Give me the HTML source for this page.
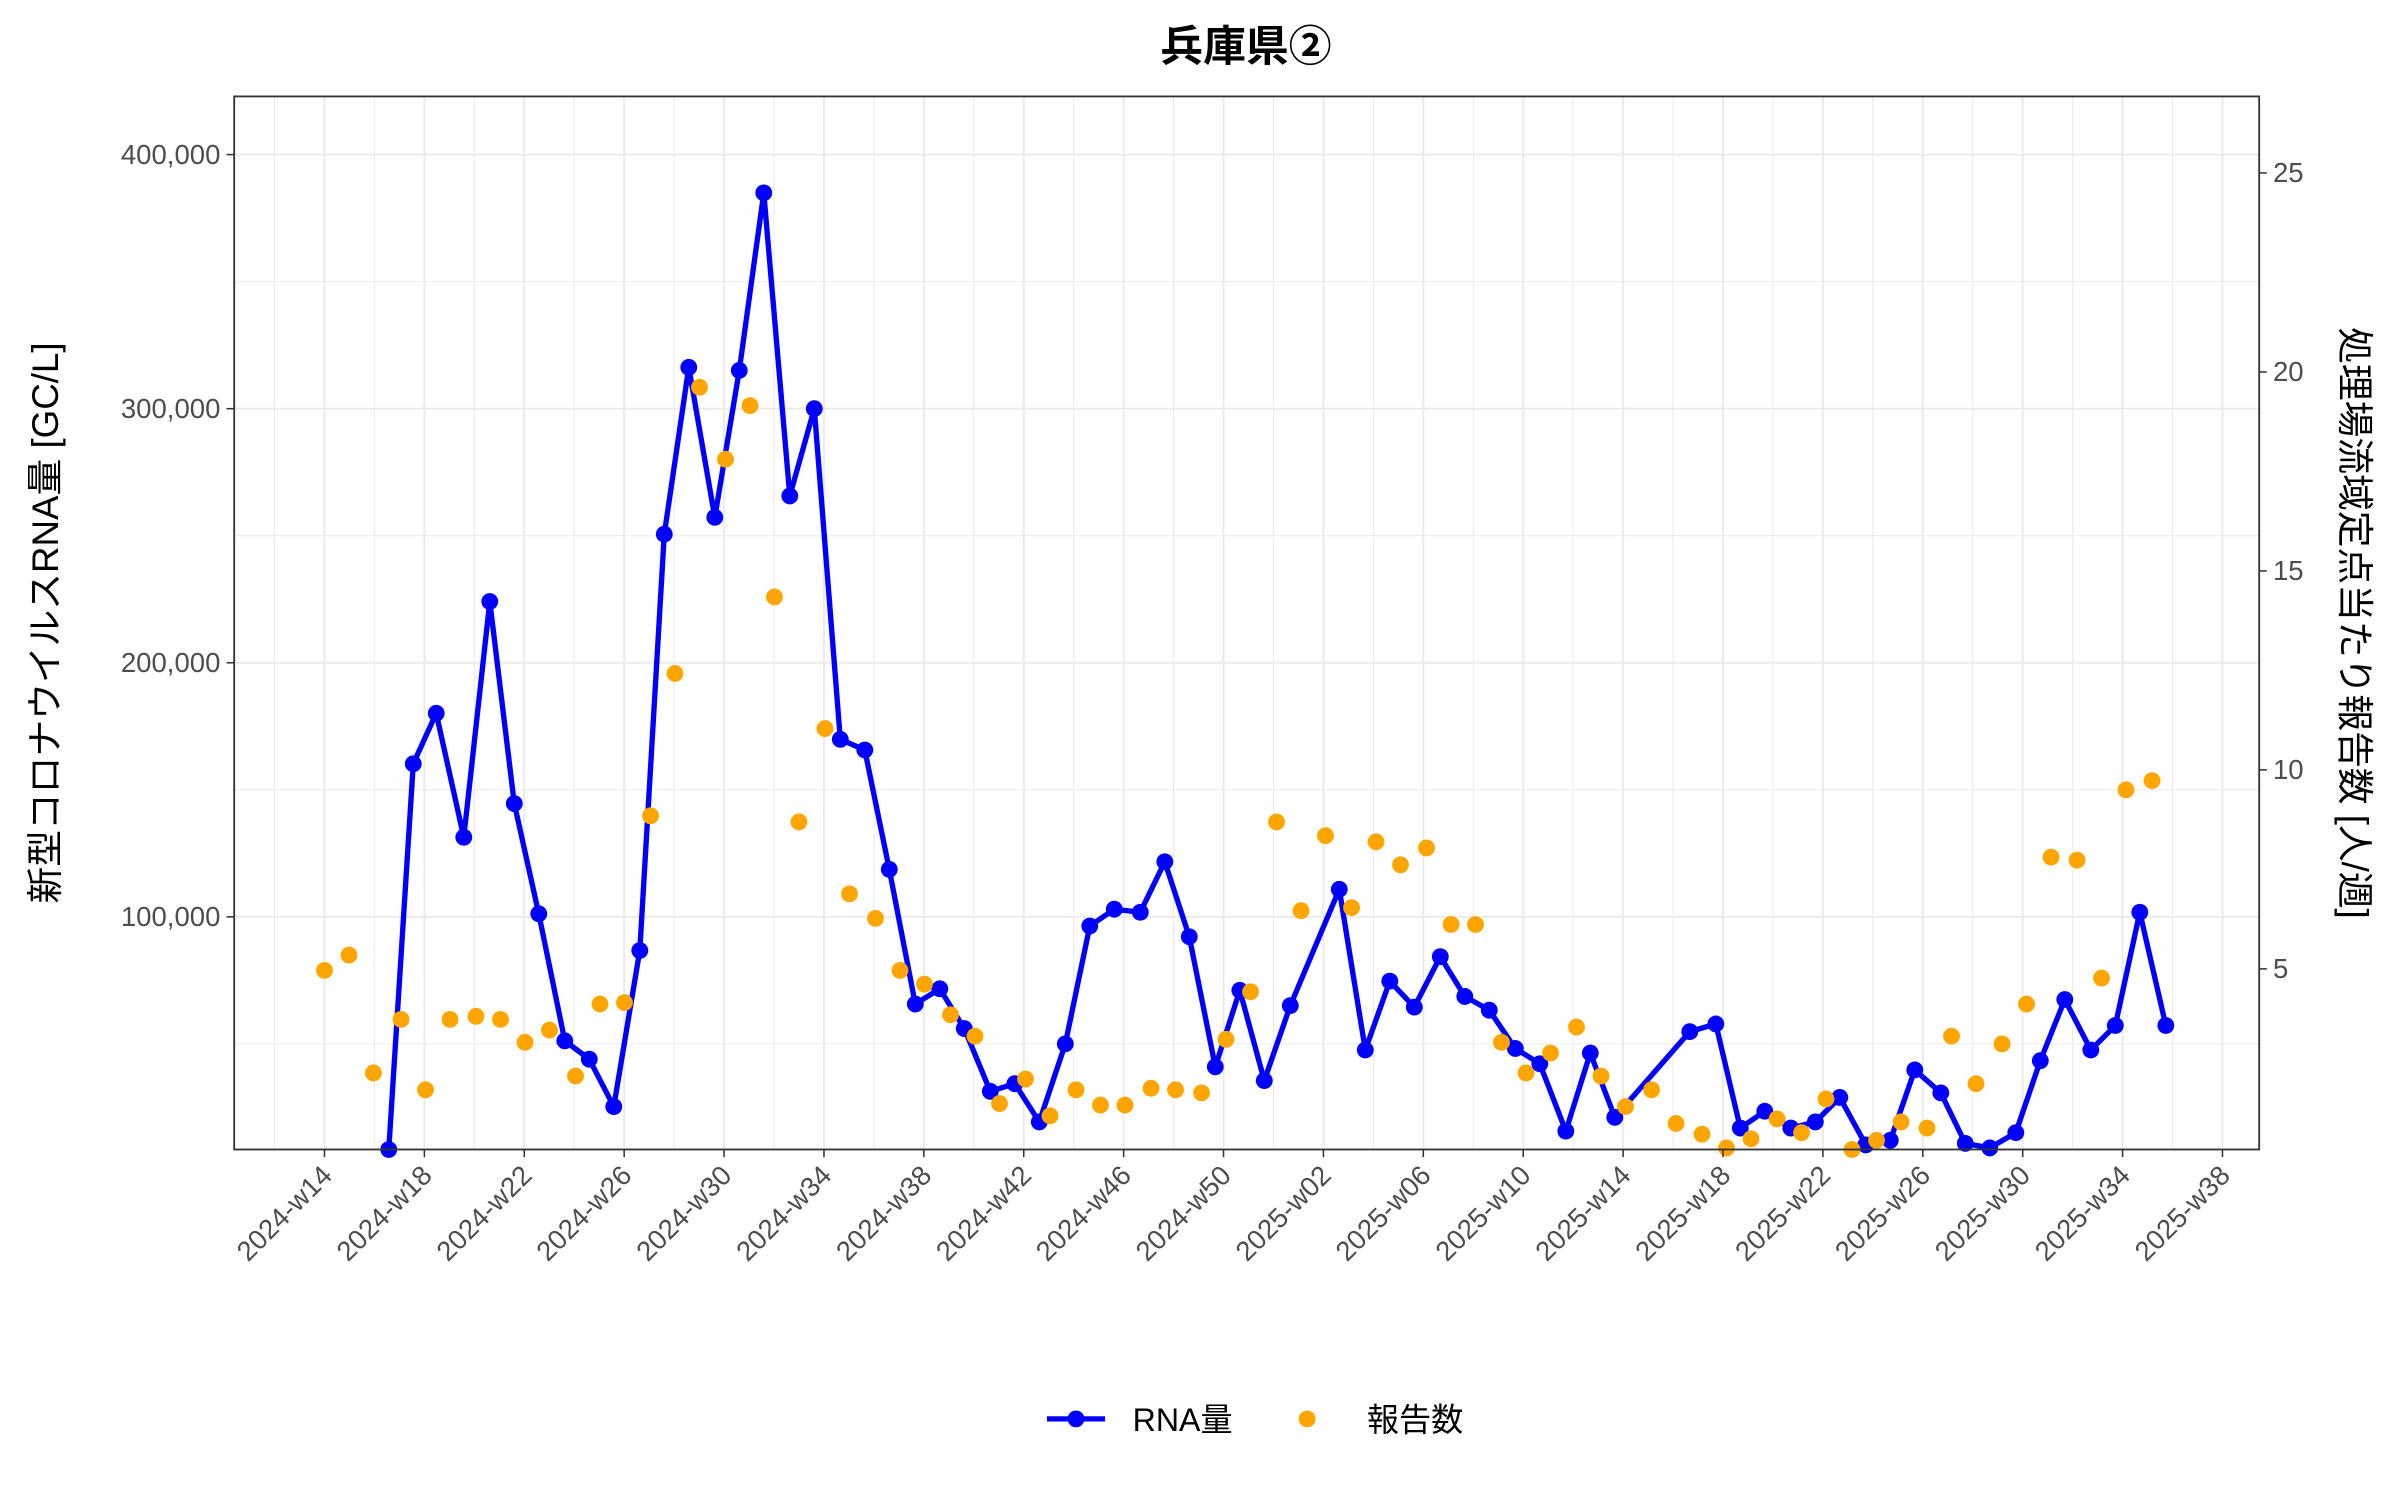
<!DOCTYPE html>
<html><head><meta charset="utf-8"><style>
html,body{margin:0;padding:0;background:#fff}
svg{display:block}
text{font-family:"Liberation Sans","Noto Sans CJK JP",sans-serif}
</style></head><body>
<svg id="s" width="2400" height="1500" viewBox="0 0 1568 980" xmlns="http://www.w3.org/2000/svg">
<rect width="1568" height="980" fill="#fff"/>
<g id="grid"></g>
<g id="data"></g>
<rect x="153" y="63" width="1323" height="688" fill="none" stroke="#333" stroke-width="1.2"/>
<g id="axes"></g>
<text x="814" y="40" text-anchor="middle" font-size="28" font-weight="bold" fill="#000">兵庫県②</text>
<text transform="translate(38,407) rotate(-90)" text-anchor="middle" font-size="24" fill="#000">新型コロナウイルスRNA量 [GC/L]</text>
<text transform="translate(1530,407) rotate(90)" text-anchor="middle" font-size="24" fill="#000">処理場流域定点当たり報告数 [人/週]</text>
<line x1="684" y1="927" x2="722" y2="927" stroke="#0000ff" stroke-width="3.5"/>
<circle cx="703" cy="927" r="5.5" fill="#0000ff"/>
<text x="740" y="935" font-size="21" fill="#000">RNA量</text>
<circle cx="854" cy="927" r="5.5" fill="#FFA500"/>
<text x="893" y="935" font-size="21" fill="#000">報告数</text>
</svg>
<script>
const NS="http://www.w3.org/2000/svg";
function el(p,t,a,txt){const e=document.createElementNS(NS,t);for(const k in a)e.setAttribute(k,a[k]);if(txt!==undefined)e.textContent=txt;document.getElementById(p).appendChild(e);return e;}
const L=153,R=1476,T=63,B=751;
const xw=i=>212+16.316*i;
for(let i=-2;i<=80;i+=2){const x=xw(i);if(x<L||x>R)continue;el('grid','line',{x1:x,x2:x,y1:T,y2:B,stroke:'#ebebeb','stroke-width':(i%4==0)?1.3:0.7});}
const yv=v=>765-v*166/100000;
for(let v=0;v<=450000;v+=50000){const y=yv(v);if(y<T||y>B)continue;el('grid','line',{x1:L,x2:R,y1:y,y2:y,stroke:'#ebebeb','stroke-width':(v%100000==0)?1.3:0.7});}
for(let v=100000;v<=400000;v+=100000){const y=yv(v);el('axes','line',{x1:L-5,x2:L,y1:y,y2:y,stroke:'#333'});el('axes','text',{x:L-9,y:y+6,'text-anchor':'end','font-size':18,fill:'#4d4d4d'},v.toLocaleString('en-US'));}
for(let v=5;v<=25;v+=5){const y=763-v*26;el('axes','line',{x1:R,x2:R+5,y1:y,y2:y,stroke:'#333'});el('axes','text',{x:R+9,y:y+6,'font-size':18,fill:'#4d4d4d'},String(v));}
const labs=['2024-w14','2024-w18','2024-w22','2024-w26','2024-w30','2024-w34','2024-w38','2024-w42','2024-w46','2024-w50','2025-w02','2025-w06','2025-w10','2025-w14','2025-w18','2025-w22','2025-w26','2025-w30','2025-w34','2025-w38'];
labs.forEach((l,k)=>{const x=xw(k*4);el('axes','line',{x1:x,x2:x,y1:B,y2:B+5,stroke:'#333'});el('axes','text',{transform:`translate(${x+6},${B+18}) rotate(-45)`,'text-anchor':'end','font-size':18,fill:'#4d4d4d'},l);});
const rna=[[254,751],[270,499],[285,466],[303,547],[320,393],[336,525],[352,597],[369,680],[385,692],[401,723],[418,621],[434,349],[450,240],[467,338],[483,242],[499,126],[516,324],[532,267],[549,483],[565,490],[581,568],[598,656],[614,646],[630,672],[647,713],[663,708],[679,733],[696,682],[712,605],[728,594],[745,596],[761,563],[777,612],[794,697],[810,647],[826,706],[843,657],[875,581],[892,686],[908,641],[924,658],[941,625],[957,651],[973,660],[990,685],[1006,695],[1023,739],[1039,688],[1055,730],[1104,674],[1121,669],[1137,737],[1153,726],[1170,737],[1186,733],[1202,717],[1219,748],[1235,745],[1251,699],[1268,714],[1284,747],[1300,750],[1317,740],[1333,693],[1349,653],[1366,686],[1382,670],[1398,596],[1415,670]];
const rep=[[212,634],[228,624],[244,701],[262,666],[278,712],[294,666],[311,664],[327,666],[343,681],[359,673],[376,703],[392,656],[408,655],[425,533],[441,440],[457,253],[474,300],[490,265],[506,390],[522,537],[539,476],[555,584],[572,600],[588,634],[604,643],[621,663],[637,677],[653,721],[670,705],[686,729],[703,712],[719,722],[735,722],[752,711],[768,712],[785,714],[801,679],[817,648],[834,537],[850,595],[866,546],[883,593],[899,550],[915,565],[932,554],[948,604],[964,604],[981,681],[997,701],[1013,688],[1030,671],[1046,703],[1062,723],[1079,712],[1095,734],[1112,741],[1128,750],[1144,744],[1161,731],[1177,740],[1193,718],[1210,751],[1226,745],[1242,733],[1259,737],[1275,677],[1291,708],[1308,682],[1324,656],[1340,560],[1357,562],[1373,639],[1389,516],[1406,510]];
el('data','polyline',{points:rna.map(p=>p.join(',')).join(' '),fill:'none',stroke:'#0000ff','stroke-width':3.5,'stroke-linejoin':'round'});
rna.forEach(p=>el('data','circle',{cx:p[0],cy:p[1],r:5.5,fill:'#0000ff'}));
rep.forEach(p=>el('data','circle',{cx:p[0],cy:p[1],r:5.5,fill:'#FFA500'}));
</script>
</body></html>
